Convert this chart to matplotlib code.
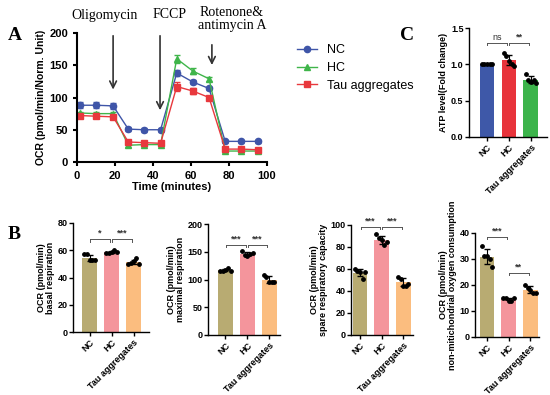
import matplotlib
matplotlib.use("Agg")
import matplotlib.pyplot as plt
from matplotlib.lines import Line2D
import numpy as np

plt.rcParams['font.family'] = ['Liberation Sans', 'DejaVu Sans']
plt.rcParams['font.weight'] = 'bold'

W, H = 550, 395
fig = plt.figure(figsize=(W / 100, H / 100), dpi=100)

def add_ax(l, t, r, b):
    return fig.add_axes([l / W, 1 - b / H, (r - l) / W, (b - t) / H])

# ---------------- data ----------------
time = [1.5, 10, 19, 27, 35.5, 44, 52.5, 61, 69.5, 78, 86.5, 95]
nc_ocr = [88, 88, 87, 51, 50, 50, 138, 124, 114, 32, 32, 32]
hc_ocr = [76, 75, 75, 26, 27, 27, 160, 141, 129, 17, 17, 17]
tau_ocr = [72, 71, 70, 31, 30, 29, 117, 110, 100, 20, 20, 19]
nc_err = [5, 5, 5, 3, 3, 3, 5, 3, 3, 2, 2, 2]
hc_err = [2, 2, 2, 2, 2, 2, 6, 4, 3, 2, 2, 2]
tau_err = [3, 3, 3, 3, 3, 3, 7, 4, 3, 2, 2, 2]

groups = ["NC", "HC", "Tau aggregates"]
series_labels = ["NC", "HC", "Tau aggregates"]

basal_pts = [[57, 57, 53, 53, 53], [58, 58, 59, 60, 59], [50, 51, 52, 54, 50]]
maximal_pts = [[115, 116, 118, 120, 116], [152, 145, 143, 146, 147], [108, 104, 95, 95, 95]]
spare_pts = [[60, 58, 57, 51, 57], [92, 88, 86, 82, 85], [53, 51, 45, 45, 46]]
nonmito_pts = [[35, 31, 31, 30, 27], [15, 15, 14, 14, 15], [20, 19, 18, 17, 17]]
atp_pts = [[1.0, 1.0, 1.0, 1.0, 1.0], [1.15, 1.12, 1.05, 1.0, 0.98], [0.87, 0.78, 0.76, 0.79, 0.74]]

line_colors = ["#3f55a8", "#3fb54a", "#e8383d"]
b_colors = ["#b8ab72", "#f4959c", "#fbbd7f"]
c_colors = ["#3e58a8", "#e8333b", "#3cb44b"]
markers = ['o', '^', 's']

# ---------------- Panel A ----------------
axA = add_ax(77, 33, 267, 162)
for y, e, c, m in zip([nc_ocr, hc_ocr, tau_ocr], [nc_err, hc_err, tau_err],
                      line_colors, markers):
    axA.errorbar(time, y, yerr=e, color=c, marker=m, markersize=4.5, lw=1,
                 capsize=2, elinewidth=0.8)
axA.set_xlim(0, 100)
axA.set_ylim(0, 200)
axA.set_xticks([0, 20, 40, 60, 80, 100])
axA.set_yticks([0, 50, 100, 150, 200])
axA.spines[['top', 'right']].set_visible(False)
for s in ['left', 'bottom']:
    axA.spines[s].set_linewidth(1.5)
axA.tick_params(labelsize=8, width=1.5, length=3)
axA.set_xlabel("Time (minutes)", fontsize=8, fontweight='bold', labelpad=1)
axA.set_ylabel("OCR (pmol/min/Norm. Unit)", fontsize=7.5, fontweight='bold', labelpad=2)
handles = [Line2D([], [], color=c, marker=m, markersize=4.5, lw=1)
           for c, m in zip(line_colors, markers)]
axA.legend(handles, series_labels, loc='upper left', bbox_to_anchor=(1.1, 1.0),
           frameon=False, prop={'weight': 'normal', 'size': 9}, handlelength=1.6,
           labelspacing=0.45)

arrow_kw = dict(arrowstyle='->', color='#333333', lw=1.2, mutation_scale=12)
axA.annotate('', xy=(19, 108), xytext=(19, 200), arrowprops=arrow_kw, annotation_clip=False)
axA.annotate('', xy=(43.7, 76), xytext=(43.7, 200), arrowprops=arrow_kw, annotation_clip=False)
axA.annotate('', xy=(71, 146), xytext=(71, 186), arrowprops=arrow_kw, annotation_clip=False)

serif = dict(family=['Liberation Serif', 'DejaVu Serif'], fontsize=10, fontweight='normal')
fig.text(105 / W, 1 - 15 / H, "Oligomycin", ha='center', va='center', **serif)
fig.text(170 / W, 1 - 15 / H, "FCCP", ha='center', va='center', **serif)
fig.text(232 / W, 1 - 19 / H, "Rotenone&\nantimycin A", ha='center', va='center',
         linespacing=1.0, **serif)

panel = dict(family=['Liberation Serif', 'DejaVu Serif'], fontsize=14, fontweight='bold')
fig.text(8 / W, 1 - 36 / H, "A", ha='left', va='center', **panel)
fig.text(8 / W, 1 - 235 / H, "B", ha='left', va='center', **panel)
fig.text(400 / W, 1 - 35 / H, "C", ha='left', va='center', **panel)

offsets = np.array([-0.24, -0.12, 0.0, 0.12, 0.24])


def bar_panel(ax, pts, colors, ylim, yticks, ylabel, xlim, brackets, lab_fs=6.5,
              tick_fs=6.5):
    means = [np.mean(p) for p in pts]
    sds = [np.std(p, ddof=1) for p in pts]
    x = np.arange(len(pts))
    ax.bar(x, means, width=0.68, color=colors, zorder=1)
    ax.errorbar(x, means, yerr=sds, fmt='none', ecolor='black', capsize=2,
                elinewidth=0.8, zorder=2)
    for i, p in enumerate(pts):
        ax.scatter(x[i] + offsets, p, s=6, color='black', zorder=3, clip_on=False)
    ax.set_xlim(*xlim)
    ax.set_ylim(*ylim)
    ax.set_yticks(yticks)
    ax.set_xticks(x)
    ax.set_xticklabels(groups, rotation=45, ha='right', rotation_mode='anchor',
                       fontsize=tick_fs)
    ax.tick_params(axis='y', labelsize=tick_fs, width=1, length=3, pad=1)
    ax.tick_params(axis='x', width=1, length=3, pad=1)
    ax.spines[['top', 'right']].set_visible(False)
    for s in ['left', 'bottom']:
        ax.spines[s].set_linewidth(1.0)
    ax.set_ylabel(ylabel, fontsize=lab_fs, fontweight='bold', labelpad=2,
                  linespacing=1.0)
    rng = ylim[1] - ylim[0]
    for (a, b, yv, txt) in brackets:
        x1, x2 = a + 0.02, b - 0.08
        tk = rng * 0.02
        ax.plot([x1, x2], [yv, yv], color='#555555', lw=0.7, clip_on=False)
        ax.plot([x1, x1], [yv - tk, yv], color='#555555', lw=0.7, clip_on=False)
        ax.plot([x2, x2], [yv - tk, yv], color='#555555', lw=0.7, clip_on=False)
        ax.text((x1 + x2) / 2, yv + rng * 0.015, txt, ha='center', va='bottom',
                fontsize=6.5, fontweight='normal' if txt == 'ns' else 'bold',
                color='#333333')


ax1 = add_ax(73, 223, 149, 332)
bar_panel(ax1, basal_pts, b_colors, (0, 80), [0, 20, 40, 60, 80],
          "OCR (pmol/min)\nbasal respiration", (-0.75, 2.7),
          [(0, 1, 68, "*"), (1, 2, 68, "***")])

ax2 = add_ax(208, 224, 280, 335)
bar_panel(ax2, maximal_pts, b_colors, (0, 200), [0, 50, 100, 150, 200],
          "OCR (pmol/min)\nmaximal respiration", (-0.8, 2.5),
          [(0, 1, 162, "***"), (1, 2, 162, "***")])

ax3 = add_ax(351, 225, 413, 335)
bar_panel(ax3, spare_pts, b_colors, (0, 100), [0, 20, 40, 60, 80, 100],
          "OCR (pmol/min)\nspare respiratory capacity", (-0.42, 2.45),
          [(0, 1, 98, "***"), (1, 2, 98, "***")])

ax4 = add_ax(475, 233, 539, 337)
bar_panel(ax4, nonmito_pts, b_colors, (0, 40), [0, 10, 20, 30, 40],
          "OCR (pmol/min)\nnon-mitichondrial oxygen consumption", (-0.55, 2.4),
          [(0, 1, 38.5, "***"), (1, 2, 24.6, "**")])

axC = add_ax(469, 28, 547, 137)
bar_panel(axC, atp_pts, c_colors, (0, 1.5), [0.0, 0.5, 1.0, 1.5],
          "ATP level(Fold change)", (-0.82, 2.73),
          [(0, 1, 1.29, "ns"), (1, 2, 1.29, "**")])
axC.set_yticklabels(["0.0", "0.5", "1.0", "1.5"])

fig.savefig("out.png", dpi=100)
